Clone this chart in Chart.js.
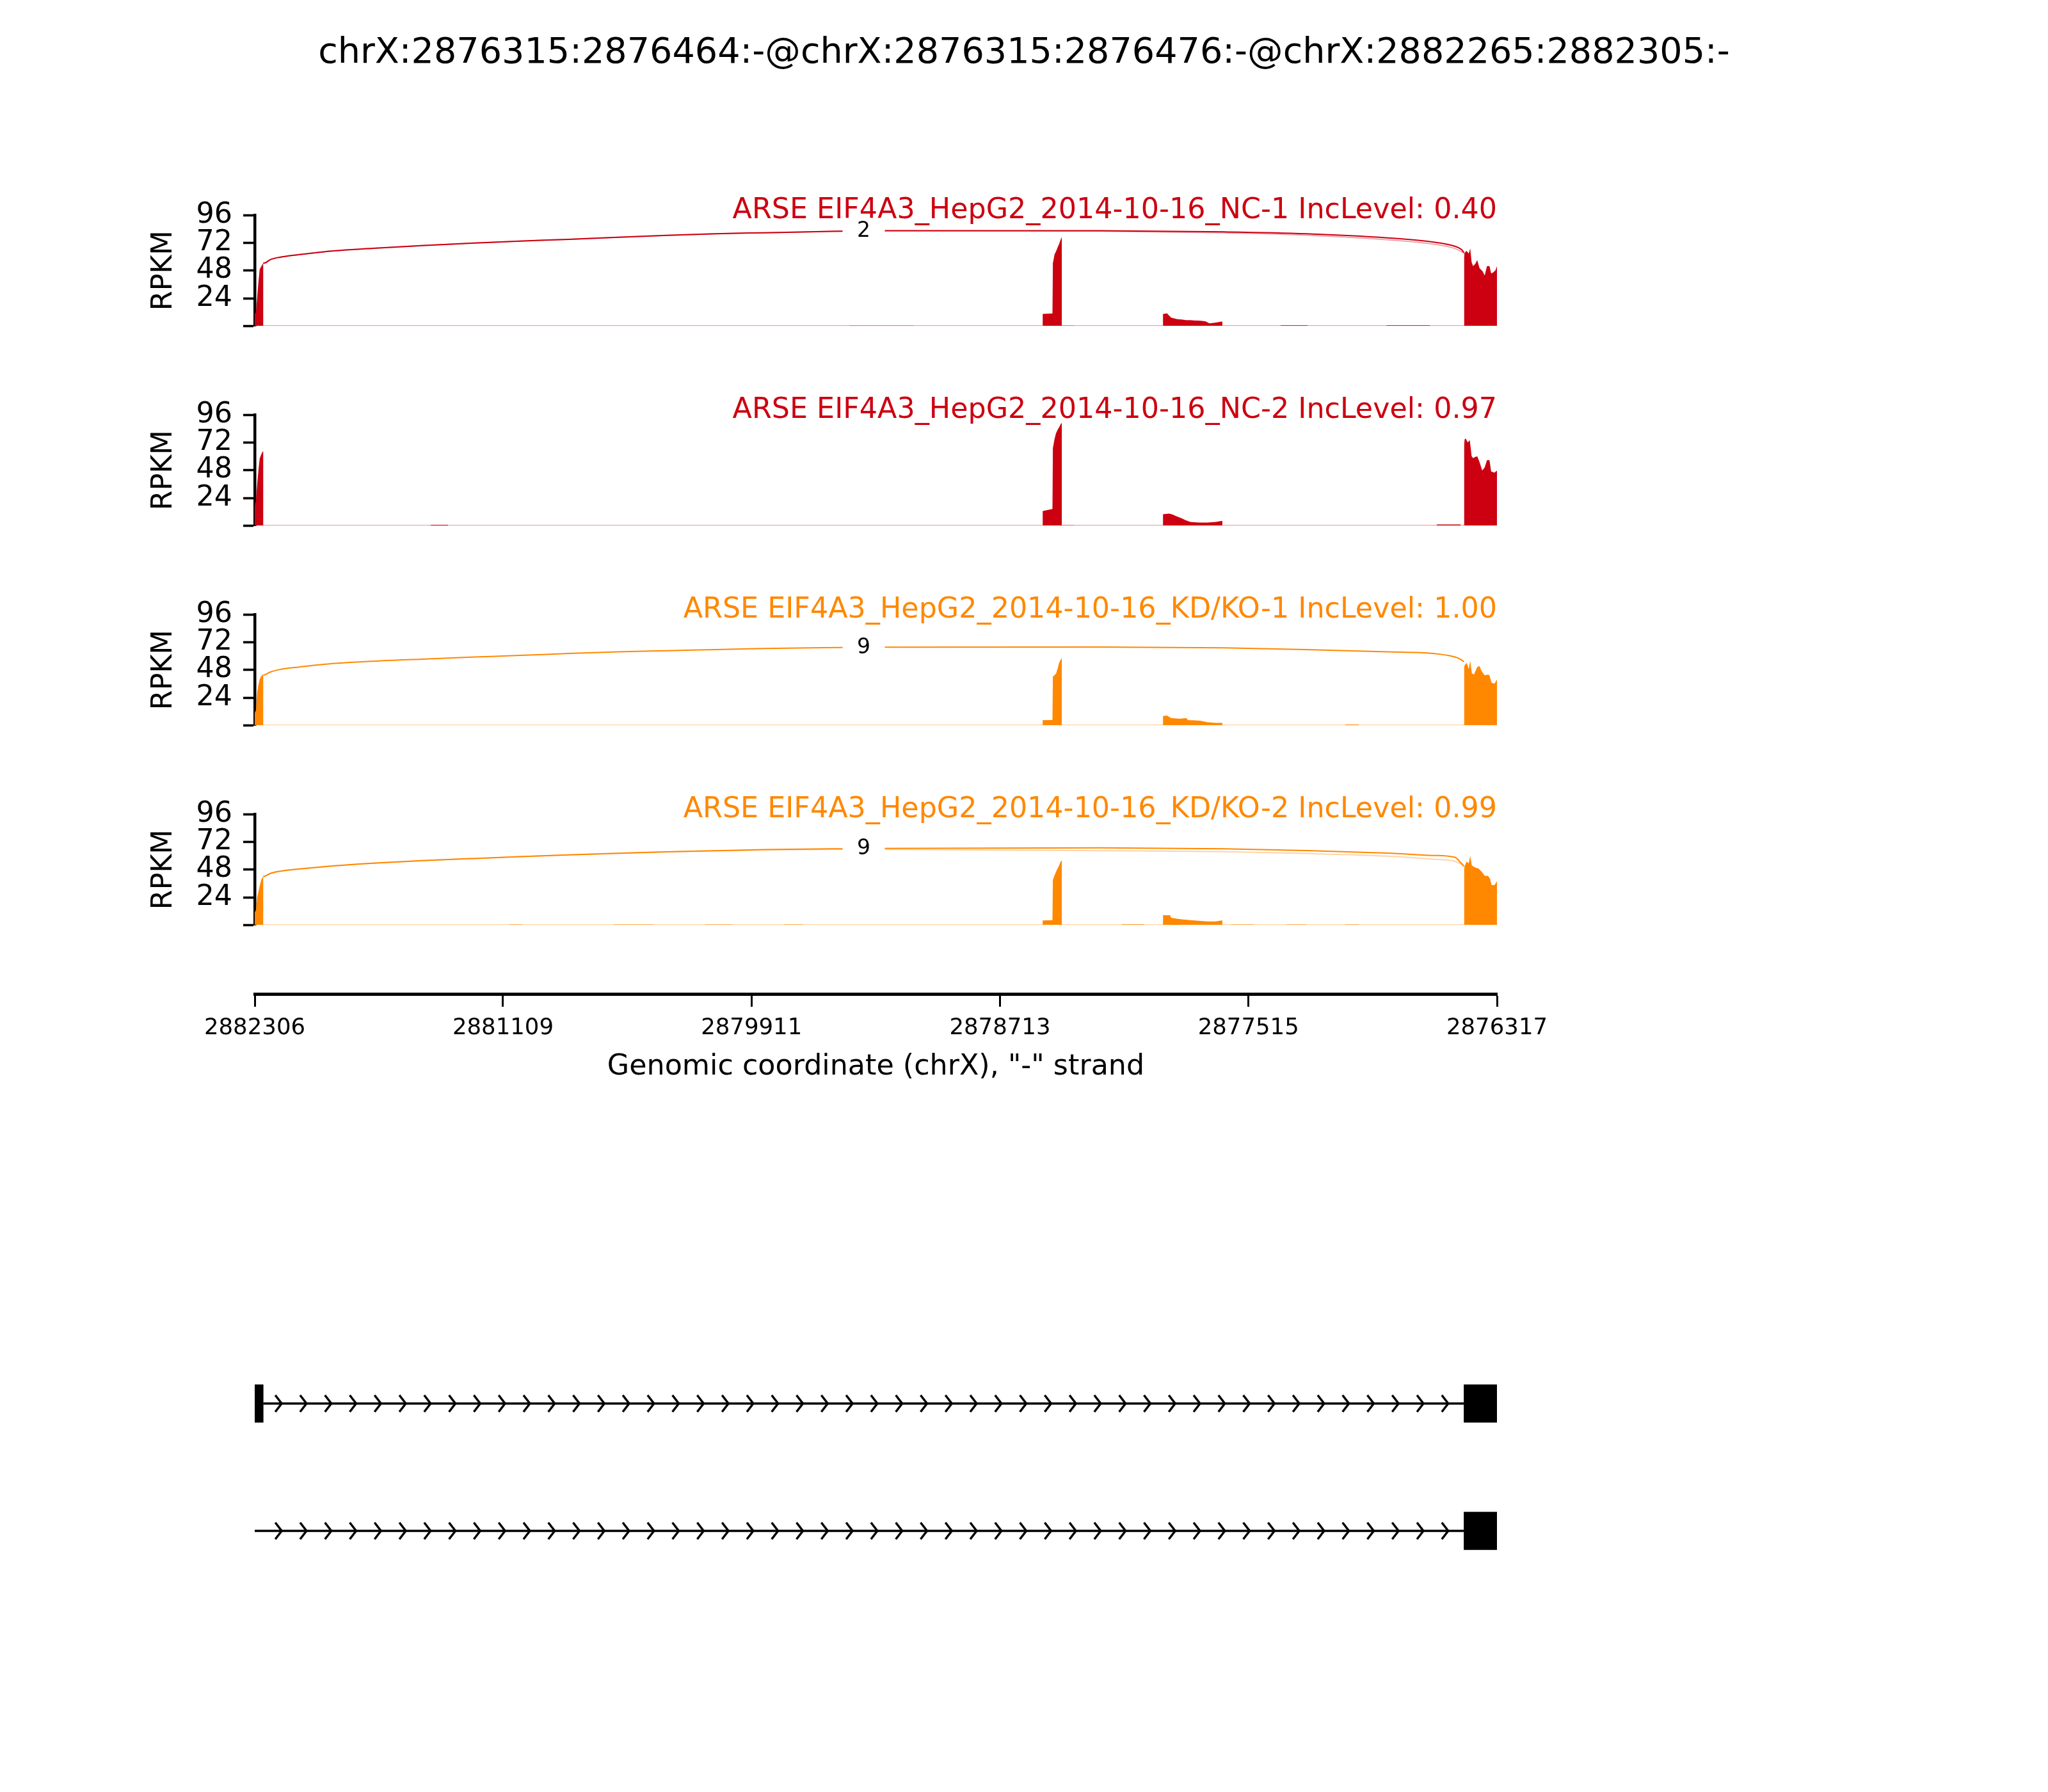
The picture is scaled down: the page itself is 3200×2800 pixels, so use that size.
<!DOCTYPE html>
<html>
<head>
<meta charset="utf-8">
<script src="https://cdn.jsdelivr.net/npm/chart.js@4.4.1/dist/chart.umd.min.js"></script>
<style>
  body { margin: 0; background: #fff; }
  #wrap { position: relative; width: 3200px; height: 2800px; background: #fff; overflow: hidden; }
  #wrap canvas { position: absolute; left: 0; }
  #title { position: absolute; left: 0; top: 47px; width: 3200px; text-align: center;
           font-family: "DejaVu Sans"; font-size: 55.6px; line-height: 64px; color: #000; }
</style>
</head>
<body>
<div id="wrap">
  <div id="title">chrX:2876315:2876464:-@chrX:2876315:2876476:-@chrX:2882265:2882305:-</div>
</div>
<script>
const RED = "#CC0011";
const ORANGE = "#FF8800";

// genomic window, "-" strand so the axis runs right to left
const xMin = 2876317;
const xMax = 2882306;
const xTicks = [2882306, 2881109, 2879911, 2878713, 2877515, 2876317];
const yTicks = [0, 24, 48, 72, 96];

const sampleLabels = [
  "ARSE EIF4A3_HepG2_2014-10-16_NC-1 IncLevel: 0.40",
  "ARSE EIF4A3_HepG2_2014-10-16_NC-2 IncLevel: 0.97",
  "ARSE EIF4A3_HepG2_2014-10-16_KD/KO-1 IncLevel: 1.00",
  "ARSE EIF4A3_HepG2_2014-10-16_KD/KO-2 IncLevel: 0.99",
];
const sampleColors = [RED, RED, ORANGE, ORANGE];
const sampleLight = ["rgba(204,0,17,0.35)", "rgba(204,0,17,0.35)", "rgba(255,136,0,0.35)", "rgba(255,136,0,0.35)"];

// coverage, [position, RPKM]
const covNC1 = [
  [2882306,0],[2882306,10.5],[2882300,12],[2882294,25],[2882288,38],[2882282,49],[2882276,51],[2882270,53],[2882265,54.5],[2882265,0],
  [2879440,0],[2879440,0.4],[2879130,0.4],[2879130,0],
  [2878507,0],[2878507,10.4],[2878460,10.8],[2878458,54.5],[2878455,57],[2878450,62],[2878443,64.5],[2878435,68],[2878428,71],[2878420,75],[2878415,77],[2878415,0.4],[2878356,0.4],[2878356,0],
  [2877927,0],[2877927,10.4],[2877918,10.6],[2877908,11],[2877898,9],[2877888,7.2],[2877870,6.4],[2877857,5.9],[2877836,5.6],[2877816,5.0],[2877795,5.1],[2877775,4.7],[2877750,4.6],[2877723,4.1],[2877703,2.3],[2877690,2.6],[2877672,2.9],[2877646,3.8],[2877641,3.8],[2877641,0],
  [2877360,0],[2877360,0.6],[2877230,0.6],[2877230,0],
  [2876850,0],[2876850,0.6],[2876640,0.6],[2876640,0],
  [2876476,0],[2876475,60],[2876473,63.5],[2876463,65],[2876453,62.6],[2876446,67],[2876439,55],[2876432,51.8],[2876422,53.6],[2876412,57],[2876401,50],[2876386,47.3],[2876376,43.7],[2876365,51.8],[2876353,51.8],[2876345,45.5],[2876334,46.4],[2876324,48.2],[2876317,51.8],[2876317,0],
];
const covNC2 = [
  [2882306,0],[2882306,17.5],[2882300,22],[2882294,36],[2882288,48],[2882282,58],[2882276,61],[2882270,63.5],[2882265,64.5],[2882265,0],
  [2881457,0],[2881457,0.8],[2881374,0.8],[2881374,0],
  [2878507,0],[2878507,12.6],[2878460,14.4],[2878458,67],[2878450,75],[2878443,80],[2878435,83],[2878428,85],[2878420,88],[2878415,89],[2878415,0.4],[2878356,0.4],[2878356,0],
  [2877927,0],[2877927,9.9],[2877898,10.4],[2877880,9.6],[2877867,8.5],[2877836,6.3],[2877815,4.5],[2877795,3.2],[2877754,2.7],[2877713,2.7],[2877672,3.2],[2877646,4.1],[2877641,4.1],[2877641,0],
  [2876607,0],[2876607,1],[2876493,1],[2876493,0],
  [2876476,0],[2876475,70],[2876473,74.6],[2876468,75.5],[2876458,72],[2876448,74],[2876439,60],[2876432,58.5],[2876422,59.4],[2876412,60],[2876401,55],[2876388,47.7],[2876376,50.4],[2876365,56.7],[2876353,56.7],[2876345,46.8],[2876329,45.9],[2876317,47.7],[2876317,0],
];
const covKO1 = [
  [2882306,0],[2882306,11],[2882300,13],[2882294,28.6],[2882288,35],[2882282,40],[2882276,42],[2882270,43.5],[2882265,44],[2882265,0],
  [2878507,0],[2878507,4.5],[2878460,4.6],[2878458,42],[2878450,43.5],[2878443,44.6],[2878435,49],[2878428,54],[2878420,57],[2878415,58],[2878415,0],
  [2877927,0],[2877927,8.1],[2877908,8.5],[2877888,6.3],[2877846,5.8],[2877816,6.3],[2877805,4.5],[2877775,4.3],[2877744,4.0],[2877713,2.7],[2877672,2.2],[2877646,2.2],[2877641,2.2],[2877641,0],
  [2877048,0],[2877048,0.8],[2876983,0.8],[2876983,0],
  [2876476,0],[2876475,50],[2876473,52],[2876463,54],[2876453,48.6],[2876446,55.8],[2876438,45],[2876428,44],[2876412,50.4],[2876401,51.3],[2876391,46.8],[2876376,43.2],[2876360,44],[2876353,43.2],[2876343,36.9],[2876329,36],[2876317,39.6],[2876317,0],
];
const covKO2 = [
  [2882306,0],[2882306,11],[2882300,13],[2882294,24],[2882288,29],[2882282,34],[2882276,38],[2882270,41],[2882265,42],[2882265,0],
  [2881078,0],[2881078,0.5],[2881016,0.5],[2881016,0],
  [2880575,0],[2880575,0.5],[2880387,0.5],[2880387,0],
  [2880134,0],[2880134,0.5],[2880007,0.5],[2880007,0],
  [2879754,0],[2879754,0.5],[2879662,0.5],[2879662,0],
  [2878507,0],[2878507,4.0],[2878460,4.2],[2878458,39],[2878450,43],[2878443,46],[2878435,49],[2878428,51.6],[2878420,55],[2878415,56],[2878415,0],
  [2878125,0],[2878125,0.6],[2878020,0.6],[2878020,0],
  [2877927,0],[2877927,8.5],[2877893,8.5],[2877888,6.3],[2877860,5.5],[2877836,4.9],[2877775,4.0],[2877713,3.1],[2877672,3.1],[2877646,4.0],[2877641,4.0],[2877641,0],
  [2877600,0],[2877600,0.5],[2877490,0.5],[2877490,0],
  [2877332,0],[2877332,0.5],[2877237,0.5],[2877237,0],
  [2877048,0],[2877048,0.5],[2876983,0.5],[2876983,0],
  [2876476,0],[2876475,48],[2876473,50.7],[2876463,55],[2876453,53.4],[2876446,59.7],[2876438,51.6],[2876422,49.8],[2876406,48.9],[2876391,46.2],[2876376,42.6],[2876360,42.6],[2876350,40],[2876343,34.5],[2876329,34.5],[2876317,38],[2876317,0],
];

// junction arcs, [position, height]
const arcNC1a = [
  [2882265,54.5],[2882256,54.6],[2882232,57.3],[2882185,59.5],[2882091,61.8],[2881973,64.2],[2881736,67.2],[2881501,69.6],[2881264,71.7],[2881028,73.5],[2880792,75],[2880556,76.8],[2880320,78.4],[2880084,79.8],[2879848,80.7],[2879494,82],[2879372,82.5],[2878227,82.4],[2877632,81.4],[2877237,79.8],[2876842,76.2],[2876623,72.6],[2876520,69],[2876489,66.3],[2876476,63.6],
];
const arcNC1b = [
  [2882265,54.5],[2882256,54.6],[2882232,57.3],[2882185,59.5],[2882091,61.8],[2881973,64.2],[2881736,67.2],[2881501,69.6],[2881264,71.7],[2881028,73.5],[2880792,75],[2880556,76.8],[2880320,78.4],[2880084,79.8],[2879848,80.7],[2879494,82],[2879372,82.4],[2878227,82],[2877632,80.6],[2877237,78.6],[2876842,74.6],[2876623,70.8],[2876520,67],[2876489,64.3],[2876464,61.5],
];
const arcKO1 = [
  [2882265,43.5],[2882256,43.8],[2882232,46],[2882185,48.3],[2882091,50.5],[2881973,52.8],[2881736,55.5],[2881501,57.3],[2881264,59],[2881028,60.5],[2880792,62.2],[2880556,63.6],[2880320,64.6],[2880084,65.5],[2879848,66.5],[2879494,67.3],[2879372,67.6],[2878227,67.7],[2877632,67],[2877237,65.6],[2876842,63.6],[2876623,62.2],[2876520,59.2],[2876489,56.8],[2876476,55],
];
const arcKO2a = [
  [2882265,42],[2882256,42.3],[2882232,44.5],[2882185,46.5],[2882091,48.5],[2881973,50.5],[2881736,53.5],[2881501,55.7],[2881264,57.5],[2881028,59.2],[2880792,60.7],[2880556,62.1],[2880320,63.3],[2880084,64.3],[2879848,65.2],[2879494,66],[2879372,66.2],[2878227,66.8],[2877632,66],[2877237,64.5],[2876842,62.2],[2876623,60.2],[2876520,58.6],[2876489,53.5],[2876476,51],
];
const arcKO2b = [
  [2882265,42],[2882256,42.3],[2882232,44.5],[2882185,46.5],[2882091,48.5],[2881973,50.5],[2881736,53.5],[2881501,55.7],[2881264,57.5],[2881028,59.2],[2880792,60.7],[2880556,62.1],[2880320,63.3],[2880084,64.3],[2879848,65],[2879494,65.6],[2879372,65.6],[2878227,64.3],[2877632,63.4],[2877237,61.9],[2876842,59.6],[2876623,57],[2876520,55.2],[2876489,52.5],[2876464,50],
];

const coverage = [covNC1, covNC2, covKO1, covKO2];
const arcsMain = [arcNC1a, null, arcKO1, arcKO2a];
const arcsAlt = [arcNC1b, null, null, arcKO2b];
const junctionCounts = ["2", null, "9", "9"];
const junctionLabelX = 2879370;
const junctionLabelY = [82.5, null, 67.6, 66.2];

// gene models
const trackNames = ["iso1", "iso2"];
const exonsUp = [[2882265, 2882305], null];
const exonsDown = [[2876315, 2876476], [2876315, 2876476]];
const introns = [[2882265, 2876476], [2882306, 2876476]];
const arrowFirst = 2882176, arrowLast = 2876552, arrowCount = 48;

Chart.defaults.font.family = '"DejaVu Sans"';
Chart.defaults.color = "#000";

const panelTops = [336, 648, 960, 1272];

function makeCanvas(top, height) {
  const c = document.createElement("canvas");
  c.width = 3200; c.height = height;
  c.style.top = top + "px";
  c.style.width = "3200px"; c.style.height = height + "px";
  document.getElementById("wrap").appendChild(c);
  return c;
}
const xy = arr => arr.map(p => ({ x: p[0], y: p[1] }));

const panelText = {
  id: "panelText",
  afterDatasetsDraw(chart, args, opts) {
    if (!opts || !opts.label) return;
    const { ctx, chartArea, scales } = chart;
    ctx.save();
    ctx.font = '44.4px "DejaVu Sans"';
    ctx.fillStyle = opts.color;
    ctx.textAlign = "right";
    ctx.textBaseline = "alphabetic";
    ctx.fillText(opts.label, chartArea.right, chartArea.top + 5);
    if (opts.count) {
      const px = scales.x.getPixelForValue(opts.countX);
      const py = scales.y.getPixelForValue(opts.countY);
      ctx.fillStyle = "#fff";
      ctx.fillRect(px - 33, py - 20, 66, 40);
      ctx.fillStyle = "#000";
      ctx.font = '33px "DejaVu Sans"';
      ctx.textAlign = "center";
      ctx.textBaseline = "middle";
      ctx.fillText(opts.count, px, py + 1);
    }
    ctx.restore();
  }
};

for (let i = 0; i < 4; i++) {
  const ds = [];
  ds.push({ data: xy(coverage[i]), fill: "origin", backgroundColor: sampleColors[i],
            borderColor: "rgba(0,0,0,0)", borderWidth: 0, pointRadius: 0, tension: 0, order: 0 });
  if (arcsAlt[i]) ds.push({ data: xy(arcsAlt[i]), borderColor: sampleLight[i], borderWidth: 2,
            pointRadius: 0, cubicInterpolationMode: "monotone", fill: false, order: 1 });
  if (arcsMain[i]) ds.push({ data: xy(arcsMain[i]), borderColor: sampleColors[i], borderWidth: 2,
            pointRadius: 0, cubicInterpolationMode: "monotone", fill: false, order: 1 });
  ds.push({ data: [{ x: xMax, y: 0 }, { x: xMin, y: 0 }], borderColor: sampleLight[i], borderWidth: 2.5,
            pointRadius: 0, fill: false, order: 3 });

  new Chart(makeCanvas(panelTops[i] - 100, 317), {
    type: "line",
    data: { datasets: ds },
    plugins: [panelText],
    options: {
      animation: false, responsive: false, devicePixelRatio: 1,
      layout: { padding: { left: 230, right: 861, top: 100, bottom: 40 } },
      plugins: {
        legend: { display: false }, tooltip: { enabled: false },
        panelText: { label: sampleLabels[i], color: sampleColors[i], count: junctionCounts[i],
                     countX: junctionLabelX, countY: junctionLabelY[i] }
      },
      scales: {
        x: { type: "linear", reverse: true, min: xMin, max: xMax, display: false },
        y: {
          min: 0, max: 96,
          afterBuildTicks: s => { s.ticks = yTicks.map(v => ({ value: v })); },
          afterFit: s => { s.width = 168; },
          ticks: { color: "#000", font: { size: 44.4 }, padding: 17, autoSkip: false,
                   callback: v => (v === 0 ? "" : String(v)) },
          grid: { drawOnChartArea: false, drawTicks: true, tickLength: 18, tickWidth: 3.6, tickColor: "#000" },
          border: { display: true, color: "#000", width: 4.5 },
          title: { display: true, text: "RPKM", color: "#000", font: { size: 44.4 }, padding: 0 }
        }
      }
    }
  });
}

// shared genomic axis
new Chart(makeCanvas(1500, 260), {
  type: "line",
  data: { datasets: [] },
  options: {
    animation: false, responsive: false, devicePixelRatio: 1,
    layout: { padding: { left: 398, right: 861, top: 20, bottom: 57 } },
    plugins: { legend: { display: false }, tooltip: { enabled: false } },
    scales: {
      x: {
        type: "linear", reverse: true, min: xMin, max: xMax, position: "bottom",
        afterBuildTicks: s => { s.ticks = xTicks.map(v => ({ value: v })); },
        afterFit: s => { s.height = 150; },
        ticks: { color: "#000", font: { size: 35.5 }, padding: 12, maxRotation: 0, autoSkip: false, callback: v => String(v) },
        grid: { drawOnChartArea: false, drawTicks: true, tickLength: 20, tickWidth: 3, tickColor: "#000" },
        border: { display: true, color: "#000", width: 5 },
        title: { display: true, text: 'Genomic coordinate (chrX), "-" strand', color: "#000",
                 font: { size: 44.4 }, padding: { top: 0, bottom: 9 } }
      },
      y: { display: false, min: 0, max: 1 }
    }
  }
});

// gene structure
const intronPlugin = {
  id: "introns",
  beforeDatasetsDraw(chart) {
    const { ctx, scales } = chart;
    const step = (arrowLast - arrowFirst) / (arrowCount - 1);
    ctx.save();
    ctx.strokeStyle = "#000";
    ctx.lineWidth = 3.5;
    introns.forEach((seg, t) => {
      const y = scales.y.getPixelForValue(t);
      const a = scales.x.getPixelForValue(seg[0]);
      const b = scales.x.getPixelForValue(seg[1]);
      ctx.beginPath(); ctx.moveTo(a, y); ctx.lineTo(b, y); ctx.stroke();
      for (let k = 0; k < arrowCount; k++) {
        const px = scales.x.getPixelForValue(arrowFirst + k * step);
        ctx.beginPath();
        ctx.moveTo(px - 10, y - 13); ctx.lineTo(px, y); ctx.lineTo(px - 10, y + 13);
        ctx.stroke();
      }
    });
    ctx.restore();
  }
};

new Chart(makeCanvas(2080, 430), {
  type: "bar",
  data: {
    labels: trackNames,
    datasets: [
      { data: exonsUp, backgroundColor: "#000", barThickness: 59, grouped: false, borderWidth: 0 },
      { data: exonsDown, backgroundColor: "#000", barThickness: 59, grouped: false, borderWidth: 0 }
    ]
  },
  plugins: [intronPlugin],
  options: {
    indexAxis: "y",
    animation: false, responsive: false, devicePixelRatio: 1,
    layout: { padding: { left: 398, right: 861, top: 13.5, bottom: 18.5 } },
    plugins: { legend: { display: false }, tooltip: { enabled: false } },
    scales: {
      x: { type: "linear", reverse: true, min: xMin, max: xMax, display: false },
      y: { type: "category", offset: true, display: false }
    }
  }
});
</script>
</body>
</html>
